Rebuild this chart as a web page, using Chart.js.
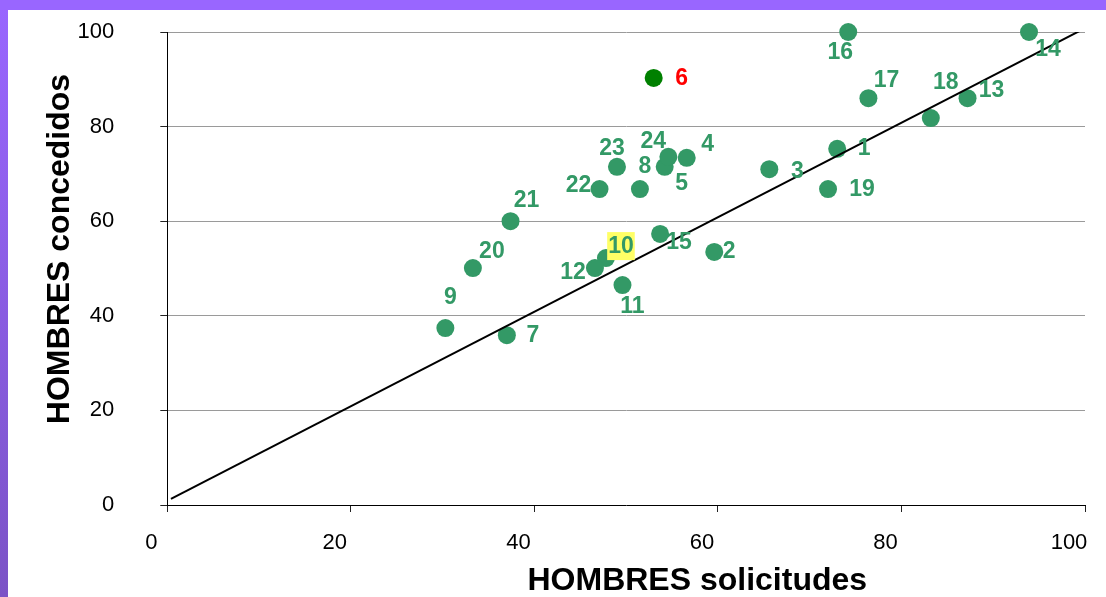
<!DOCTYPE html>
<html>
<head>
<meta charset="utf-8">
<script src="https://cdn.jsdelivr.net/npm/chart.js@4/dist/chart.umd.min.js"></script>
<style>
  html, body { margin: 0; padding: 0; background: #fff; overflow: hidden; }
  #topbar { position: absolute; left: 0; top: 0; width: 1106px; height: 10px; background: #9966ff; }
  #leftbar { position: absolute; left: 0; top: 0; width: 8px; height: 597px; background: linear-gradient(#9966ff, #7b53c6); }
  #chart { position: absolute; left: 0; top: 0; }
</style>
</head>
<body>
<div id="leftbar"></div>
<div id="topbar"></div>
<canvas id="chart" width="1106" height="597"></canvas>
<script>
// one point per case, numbered as on the slide
const pointIds = ['1','2','3','4','5','6','7','8','9','10','11','12',
                  '13','14','15','16','17','18','19','20','21','22','23','24'];
const solicitudes = [73.0, 59.6, 65.6, 56.6, 54.2, 53.0, 37.0, 51.5, 30.3, 47.8, 49.6, 46.6,
                     87.2, 93.9, 53.7, 74.2, 76.4, 83.2, 72.0, 33.3, 37.4, 47.1, 49.0, 54.6];
const concedidos = [75.3, 53.5, 71.0, 73.4, 71.5, 90.3, 35.9, 66.8, 37.4, 52.2, 46.5, 50.1,
                    86.0, 100, 57.3, 100, 86.0, 81.8, 66.8, 50.1, 60.0, 66.8, 71.5, 73.6];
const trendX = [0.4, 99.4];
const trendY = [1.3, 100.2];
const axisTicks = [0, 20, 40, 60, 80, 100];
const xTitle = 'HOMBRES solicitudes';
const yTitle = 'HOMBRES concedidos';

// where each number sits relative to its point (px)
const labelOffsets = [[27,0],[15,0],[28,2],[21,-13],[17,17],[28,1],[26,0],[5,-22],[5,-30],[15,-11],
                      [10,22],[-22,5],[24,-8],[19,18],[19,9],[-8,21],[18,-18],[15,-35],[34,1],
                      [19,-16],[16,-21],[-21,-3],[-5,-18],[-15,-15]];

const green = '#339966';
const font = "'Liberation Sans', Arial, sans-serif";

const points = solicitudes.map((x, i) => ({x: x, y: concedidos[i]}));
const trend = trendX.map((x, i) => ({x: x, y: trendY[i]}));

const pointLabels = {
  id: 'pointLabels',
  afterDatasetsDraw(chart) {
    const ctx = chart.ctx;
    const meta = chart.getDatasetMeta(1);
    ctx.save();
    ctx.font = 'bold 23px ' + font;
    ctx.textAlign = 'center';
    ctx.textBaseline = 'middle';
    meta.data.forEach((el, i) => {
      const lx = el.x + labelOffsets[i][0];
      const ly = el.y + labelOffsets[i][1];
      const txt = pointIds[i];
      if (txt === '10') {
        const w = ctx.measureText(txt).width + 2;
        ctx.fillStyle = '#ffff66';
        ctx.fillRect(lx - w / 2, ly - 15, w, 28);
      }
      ctx.fillStyle = txt === '6' ? '#ff0000' : green;
      ctx.fillText(txt, lx, ly);
    });
    ctx.restore();
  }
};

// axis titles sit off-centre on the slide, so draw them here
const axisTitles = {
  id: 'axisTitles',
  afterDraw(chart) {
    const ctx = chart.ctx;
    const a = chart.chartArea;
    ctx.save();
    ctx.font = 'bold 32px ' + font;
    ctx.fillStyle = '#000';
    ctx.textAlign = 'center';
    ctx.textBaseline = 'alphabetic';
    ctx.fillText(xTitle, a.left + 530, a.bottom + 85);
    ctx.translate(a.left - 98, a.top + 217);
    ctx.rotate(-Math.PI / 2);
    ctx.fillText(yTitle, 0, 0);
    ctx.restore();
  }
};

new Chart(document.getElementById('chart'), {
  type: 'scatter',
  data: {
    datasets: [{
      type: 'line',
      data: trend,
      borderColor: '#000',
      borderWidth: 2,
      pointRadius: 0,
      fill: false
    }, {
      data: points,
      pointRadius: 9,
      pointHoverRadius: 9,
      borderWidth: 0,
      backgroundColor: ctx => ctx.dataIndex === 5 ? '#008000' : green,
      clip: false
    }]
  },
  options: {
    responsive: false,
    animation: false,
    devicePixelRatio: 1,
    layout: { padding: { top: 32, right: 21, left: 30, bottom: 0 } },
    plugins: { legend: { display: false }, tooltip: { enabled: false } },
    scales: {
      x: {
        type: 'linear',
        min: 0, max: 100,
        afterBuildTicks: s => { s.ticks = axisTicks.map(v => ({value: v})); },
        afterFit: s => { s.height = 92; s.paddingLeft = 0; s.paddingRight = 0; },
        grid: { drawOnChartArea: false, tickLength: 7, tickColor: '#222' },
        border: { color: '#000', width: 1 },
        ticks: { color: '#000', font: { family: font, size: 22 }, padding: 18, labelOffset: -16 }
      },
      y: {
        type: 'linear',
        min: 0, max: 100,
        afterBuildTicks: s => { s.ticks = axisTicks.map(v => ({value: v})); },
        afterFit: s => { s.width = 137.3; s.paddingTop = 0; s.paddingBottom = 0; },
        grid: {
          color: c => c.tick && c.tick.value === 0 ? 'rgba(0,0,0,0)' : '#9a9a9a',
          tickLength: 7, tickColor: '#222'
        },
        border: { color: '#000', width: 1 },
        ticks: { color: '#000', font: { family: font, size: 22 }, padding: 46 }
      }
    }
  },
  plugins: [pointLabels, axisTitles]
});
</script>
</body>
</html>
